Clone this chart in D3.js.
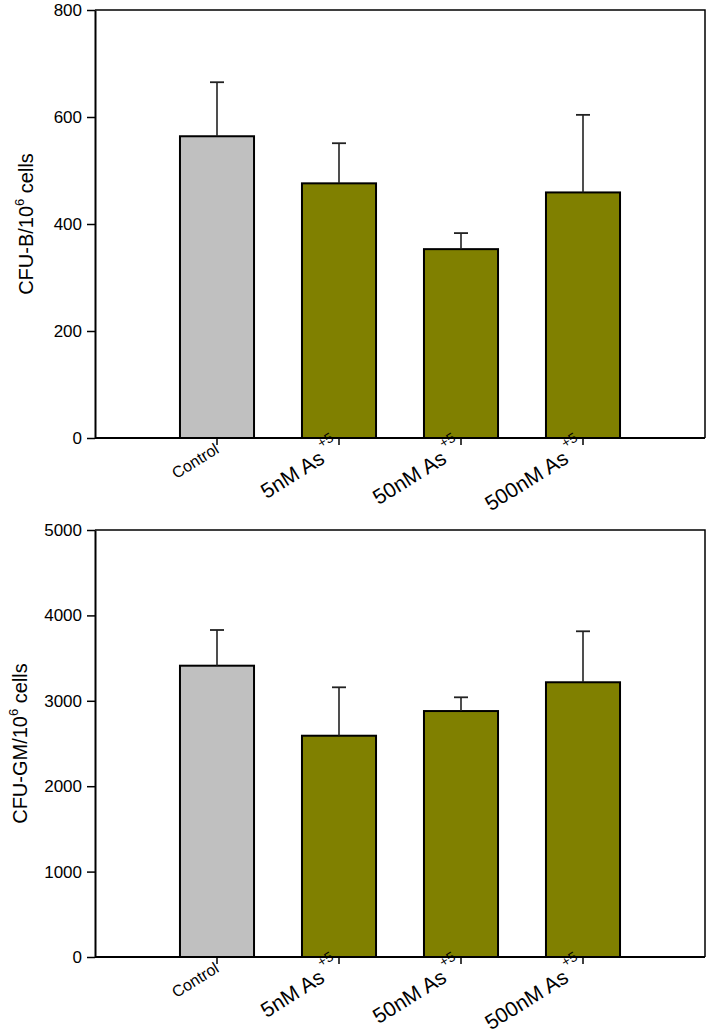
<!DOCTYPE html>
<html><head><meta charset="utf-8">
<script src="https://cdn.jsdelivr.net/npm/d3@7"></script>
<style>body{margin:0;background:#fff}svg{display:block;font-family:"Liberation Sans",Arial,sans-serif}</style>
</head><body>
<svg id="c" width="712" height="1036"></svg>
<script>
const categories = ["Control", "5nM As", "50nM As", "500nM As"];
const superscripts = ["", "+5", "+5", "+5"];
const cfuBMean = [564, 476, 353, 459];
const cfuBErr = [101, 75, 30, 145];
const cfuGMMean = [3411, 2591, 2880, 3217];
const cfuGMErr = [418, 567, 161, 597];
const cfuBTicks = [0, 200, 400, 600, 800];
const cfuGMTicks = [0, 1000, 2000, 3000, 4000, 5000];
const fills = ["#c0c0c0", "#808000", "#808000", "#808000"];

const svg = d3.select("#c");

function panel(opts) {
  const {top, bottom, left, right, max, ticks, mean, err, title, titleX} = opts;
  const g = svg.append("g");
  const x = d3.scaleBand().domain(categories).range([left + 61, right - 61]).paddingInner(0.393).paddingOuter(0.1965);
  const y = d3.scaleLinear().domain([0, max]).range([bottom, top]);

  g.append("path").attr("d", `M${left},${top}H${right}V${bottom}`).attr("fill", "none").attr("stroke", "#000").attr("stroke-width", 1.5);

  g.selectAll("rect.bar").data(categories).join("rect")
    .attr("x", d => x(d)).attr("width", x.bandwidth())
    .attr("y", (d, i) => y(mean[i])).attr("height", (d, i) => bottom - y(mean[i]))
    .attr("fill", (d, i) => fills[i]).attr("stroke", "#000").attr("stroke-width", 2);

  categories.forEach((c, i) => {
    const cx = x(c) + x.bandwidth() / 2;
    g.append("line").attr("x1", cx).attr("x2", cx).attr("y1", y(mean[i])).attr("y2", y(mean[i] + err[i]))
      .attr("stroke", "#222").attr("stroke-width", 1.6);
    g.append("line").attr("x1", cx - 7).attr("x2", cx + 7).attr("y1", y(mean[i] + err[i])).attr("y2", y(mean[i] + err[i]))
      .attr("stroke", "#222").attr("stroke-width", 1.8);
  });

  const ya = g.append("g").attr("transform", `translate(${left},0)`)
    .call(d3.axisLeft(y).tickValues(ticks).tickSize(8).tickSizeOuter(0).tickPadding(5).tickFormat(d3.format("d")));
  ya.attr("font-size", null).attr("font-family", null);
  ya.select(".domain").attr("stroke-width", 2);
  ya.selectAll(".tick line").attr("stroke-width", 1.5);
  ya.selectAll(".tick text").style("font-size", "17px").style("font-family", "'Liberation Sans', Arial, sans-serif").attr("fill", "#000");

  const xa = g.append("g").attr("transform", `translate(0,${bottom})`)
    .call(d3.axisBottom(x).tickSize(7).tickSizeOuter(0).tickFormat(""));
  xa.select(".domain").attr("d", `M${left},0H${right}`).attr("stroke-width", 2);
  xa.selectAll(".tick line").attr("stroke-width", 1.5);

  categories.forEach((c, i) => {
    const cx = x(c) + x.bandwidth() / 2;
    const t = g.append("text")
      .attr("transform", `translate(${cx + 3},${bottom + 14}) rotate(-32)`)
      .attr("text-anchor", "end").attr("fill", "#000");
    if (superscripts[i]) {
      t.attr("font-size", 21);
      t.append("tspan").text(c);
      t.append("tspan").attr("font-size", 14).attr("dy", -14).attr("dx", 3).text(superscripts[i]);
    } else {
      t.attr("font-size", 16).text(c);
    }
  });

  const tt = g.append("text").attr("transform", `translate(${titleX},${(top + bottom) / 2}) rotate(-90)`)
    .attr("text-anchor", "middle").attr("font-size", 20).attr("fill", "#000");
  tt.append("tspan").text(title[0]);
  tt.append("tspan").attr("font-size", 13).attr("dy", -9).text("6");
  tt.append("tspan").attr("dy", 9).text(" cells");
}

panel({top: 10, bottom: 438, left: 95, right: 705, max: 800, ticks: cfuBTicks, mean: cfuBMean, err: cfuBErr,
  title: ["CFU-B/10"], titleX: 33});
panel({top: 530, bottom: 957, left: 95, right: 705, max: 5000, ticks: cfuGMTicks, mean: cfuGMMean, err: cfuGMErr,
  title: ["CFU-GM/10"], titleX: 27});
</script>
</body></html>
